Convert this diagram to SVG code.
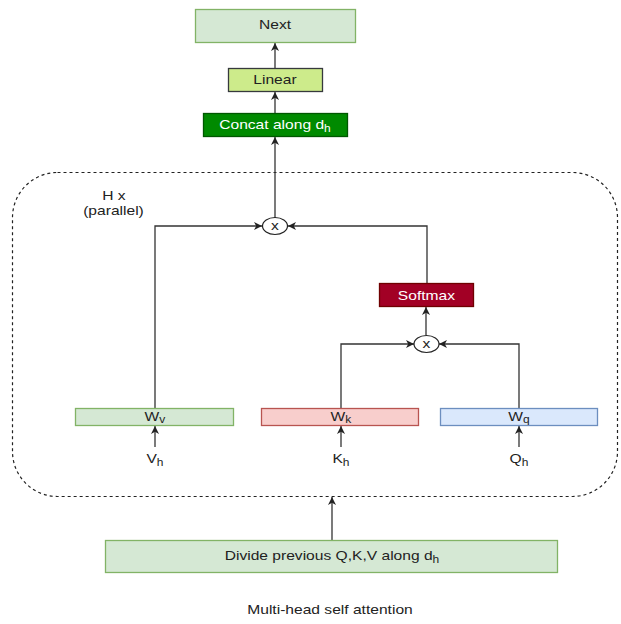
<svg xmlns="http://www.w3.org/2000/svg" width="621" height="624" viewBox="0 0 621 624">
<defs>
<marker id="arr" markerUnits="userSpaceOnUse" markerWidth="10" markerHeight="10" viewBox="0 0 10 10" refX="9" refY="5" orient="auto">
<path d="M1,1 L9,5 L1,9 L3.2,5 z" fill="#222"/>
</marker>
<style>
text{font-family:"Liberation Sans",Arial,sans-serif;font-size:13px;fill:#222;text-anchor:middle;transform-box:fill-box;transform-origin:center;transform:scaleX(1.2)}
.w{fill:#fff}
.edge{fill:none;stroke:#333;stroke-width:1.3;marker-end:url(#arr)}
.green{fill:#d5e8d4;stroke:#82b366;stroke-width:1.3}
.red{fill:#f8cecc;stroke:#b85450;stroke-width:1.3}
.blue{fill:#dae8fc;stroke:#6c8ebf;stroke-width:1.3}
.circ{fill:#fff;stroke:#222;stroke-width:1.2}
</style>
</defs>
<rect width="621" height="624" fill="#fff"/>
<g id="container">
<rect x="12.5" y="172.5" width="605" height="324" rx="45" ry="45" fill="none" stroke="#222" stroke-width="1.2" stroke-dasharray="3 3"/>
<text x="114" y="200.5">H x</text>
<text x="113.5" y="215">(parallel)</text>
</g>
<g id="connectors">
<path class="edge" d="M275,68 V43"/>
<path class="edge" d="M275,113 V92"/>
<path class="edge" d="M275,218 V137"/>
<path class="edge" d="M155,408 V226 H262"/>
<path class="edge" d="M427,283 V226 H288"/>
<path class="edge" d="M426,335 V307"/>
<path class="edge" d="M341,408 V344 H414"/>
<path class="edge" d="M519,408 V344 H439"/>
<path class="edge" d="M155,447 V426"/>
<path class="edge" d="M341,447 V426"/>
<path class="edge" d="M519,447 V426"/>
<path class="edge" d="M332,540 V497"/>
</g>
<g id="next">
<rect class="green" x="195.5" y="9.5" width="160" height="33"/>
<text x="275" y="29.5">Next</text>
</g>
<g id="linear">
<rect x="228.5" y="68.5" width="94" height="23" fill="#cdeb8b" stroke="#36393d" stroke-width="1.3"/>
<text x="275" y="84">Linear</text>
</g>
<g id="concat">
<rect x="203.5" y="113.5" width="144" height="23" fill="#008a00" stroke="#005700" stroke-width="1.3"/>
<text class="w" x="275" y="129">Concat along d<tspan font-size="10" dy="3">h</tspan></text>
</g>
<g id="mul-top">
<ellipse class="circ" cx="275" cy="226" rx="12.5" ry="8.5"/>
<text x="275" y="230.5" font-size="12">x</text>
</g>
<g id="softmax">
<rect x="379.5" y="283.5" width="94" height="23" fill="#a20025" stroke="#6f0000" stroke-width="1.3"/>
<text class="w" x="426.5" y="300">Softmax</text>
</g>
<g id="mul-bottom">
<ellipse class="circ" cx="426.5" cy="344" rx="12.5" ry="8.5"/>
<text x="426.5" y="348.5" font-size="12">x</text>
</g>
<g id="wv">
<rect class="green" x="75.5" y="408.5" width="158" height="17"/>
<text x="155" y="421">W<tspan font-size="10" dy="2">v</tspan></text>
</g>
<g id="wk">
<rect class="red" x="261.5" y="408.5" width="157" height="17"/>
<text x="341" y="421">W<tspan font-size="10" dy="2">k</tspan></text>
</g>
<g id="wq">
<rect class="blue" x="440.5" y="408.5" width="157" height="17"/>
<text x="519" y="421">W<tspan font-size="10" dy="2">q</tspan></text>
</g>
<g id="vh"><text x="155" y="463">V<tspan font-size="10" dy="3">h</tspan></text></g>
<g id="kh"><text x="341" y="463">K<tspan font-size="10" dy="3">h</tspan></text></g>
<g id="qh"><text x="519" y="463">Q<tspan font-size="10" dy="3">h</tspan></text></g>
<g id="divide">
<rect class="green" x="105.5" y="540.5" width="452" height="32"/>
<text x="332" y="560">Divide previous Q,K,V along d<tspan font-size="10" dy="3">h</tspan></text>
</g>
<g id="caption"><text x="330" y="614">Multi-head self attention</text></g>
</svg>
